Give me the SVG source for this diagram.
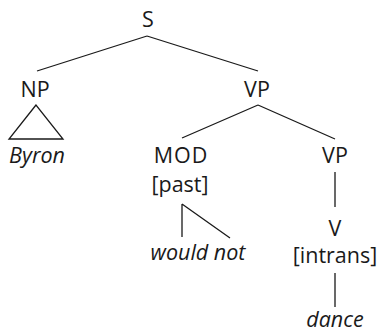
<svg xmlns="http://www.w3.org/2000/svg" width="379" height="332" viewBox="0 0 379 332">
<style>
text{font-family:"Open Sans","Liberation Sans",sans-serif;font-size:21.5px;fill:#1a1a1a;text-anchor:middle}
.i{font-style:italic}
.e{stroke:#1a1a1a;stroke-width:1.3;fill:none}
</style>
<rect width="379" height="332" fill="#fff"/>
<g id="connectors" class="e">
<path d="M147,36 L37,71 M147,36 L258,71"/>
<path d="M258,105 L182,138 M258,105 L335,139"/>
<path d="M182,204 L182,237 M182,204 L230,238"/>
<path d="M335,172 L335,207 M335,273 L335,307"/>
</g>
<g id="S"><text x="148" y="27">S</text></g>
<g id="NP"><text x="35" y="97">NP</text><polygon class="e" points="36,105 9,139 63,139"/></g>
<g id="Byron"><text class="i" x="37" y="163">Byron</text></g>
<g id="VP1"><text x="257" y="97">VP</text></g>
<g id="MOD"><text x="181" y="163" letter-spacing="1">MOD</text><text x="180" y="192">[past]</text></g>
<g id="wouldnot"><text class="i" x="198" y="260">would not</text></g>
<g id="VP2"><text x="335" y="163">VP</text></g>
<g id="V"><text x="335" y="236">V</text><text x="335" y="263">[intrans]</text></g>
<g id="dance"><text class="i" x="335" y="327">dance</text></g>
</svg>
